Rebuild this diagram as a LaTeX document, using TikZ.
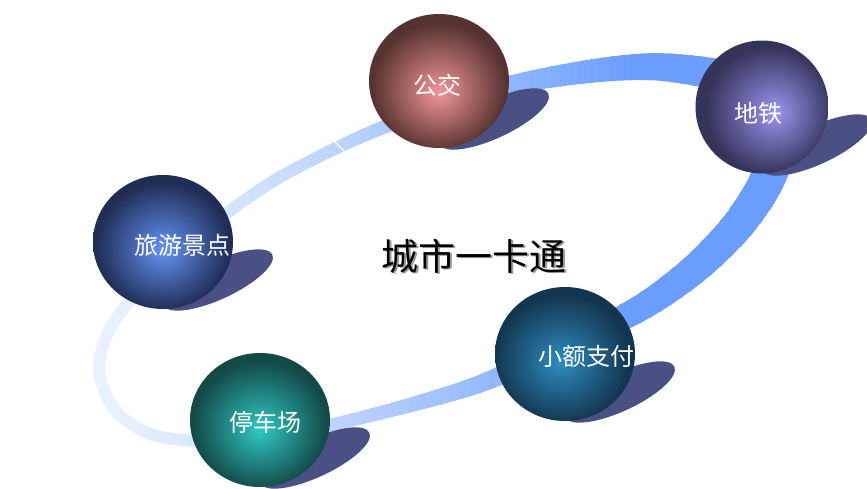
\documentclass[tikz,border=0pt]{standalone}
\usepackage{fontspec}
\newfontfamily\cjk{Noto Sans CJK SC}
\usetikzlibrary{positioning}
\usetikzlibrary{calc}
\usetikzlibrary{shapes.geometric}
\usepackage{xcolor}

\definecolor{ringblue}{RGB}{107,157,255}
\definecolor{shadowblue}{RGB}{75,80,132}
\definecolor{busin}{RGB}{242,150,150}
\definecolor{busout}{RGB}{87,50,50}
\definecolor{metroin}{RGB}{154,150,240}
\definecolor{metroout}{RGB}{52,52,90}
\definecolor{sightin}{RGB}{100,148,245}
\definecolor{sightout}{RGB}{32,45,85}
\definecolor{parkin}{RGB}{48,200,196}
\definecolor{parkout}{RGB}{19,74,72}
\definecolor{payin}{RGB}{46,140,192}
\definecolor{payout}{RGB}{19,54,80}

\pgfdeclareradialshading{busorb}{\pgfpoint{0bp}{-4.5bp}}{color(0bp)=(busin); color(24bp)=(busout); color(50bp)=(busout)}
\pgfdeclareradialshading{metroorb}{\pgfpoint{5.5bp}{-2.2bp}}{color(0bp)=(metroin); color(24bp)=(metroout); color(50bp)=(metroout)}
\pgfdeclareradialshading{sightorb}{\pgfpoint{0bp}{-3bp}}{color(0bp)=(sightin); color(24bp)=(sightout); color(50bp)=(sightout)}
\pgfdeclareradialshading{parkorb}{\pgfpoint{0bp}{-3.7bp}}{color(0bp)=(parkin); color(24bp)=(parkout); color(50bp)=(parkout)}
\pgfdeclareradialshading{payorb}{\pgfpoint{-2bp}{-3.3bp}}{color(0bp)=(payin); color(24bp)=(payout); color(50bp)=(payout)}

\tikzset{
  orb/.style={ellipse, inner sep=0pt, minimum width=140pt, minimum height=134pt, shade, shading=#1},
  orbtext/.style={text=white, font=\cjk\fontsize{24}{28}\selectfont},
  orbshadow/.style={fill=shadowblue},
  titletext/.style={font=\cjk\fontsize{37}{42}\selectfont}
}

\begin{document}
\begin{tikzpicture}[x=1pt,y=-1pt]

\useasboundingbox (0,0) rectangle (867,488);

\path[save path=\ringpath] plot[smooth cycle] coordinates {(99,372) (115,410) (150,434) (200,441) (260,437) (330,425) (410,405) (482,383) (560,348) (640,308) (693,270) (735,228) (764,185) (780,140) (768,102) (725,77) (660,67) (600,70) (520,83) (440,106) (360,137) (280,177) (220,218) (170,258) (128,303) (107,335)};

\foreach \sx in {90,100,...,800}{
  \pgfmathsetmacro{\t}{max(0.001,min(1,(\sx+5-100)/530))}
  \pgfmathtruncatemacro{\p}{15+85*\t^1.3}
  \pgfmathsetmacro{\w}{12+24*max(0.001,min(1,(\sx+5-300)/480))^1.5}
  \begin{scope}
    \clip (\sx-0.5,0) rectangle (\sx+10.5,488);
    \draw[use path=\ringpath, draw=ringblue!\p!white, line width=\w pt];
  \end{scope}
}
\draw[white, line width=1.2pt] (335,142) -- (348,155);

\coordinate (bus-c) at (439,81);
\coordinate (metro-c) at (762,107);
\coordinate (sight-c) at (163,242);
\coordinate (park-c) at (260,420);
\coordinate (pay-c) at (565,354);

\foreach \n in {bus,metro,sight,park,pay}
  \fill[orbshadow] ($(\n-c)+(55,38)$) circle [x radius=60, y radius=19, rotate=25];

\node[orb=busorb] (bus) at (bus-c) {};
\node[orb=metroorb, minimum width=133pt, minimum height=133pt] (metro) at (metro-c) {};
\node[orb=sightorb] (sight) at (sight-c) {};
\node[orb=parkorb] (park) at (park-c) {};
\node[orb=payorb] (pay) at (pay-c) {};

\node[orbtext] (bus-t) at (437,85) {公交};
\node[orbtext] (metro-t) at (758,113) {地铁};
\node[orbtext] (sight-t) at (182,245) {旅游景点};
\node[orbtext] (park-t) at (265,422) {停车场};
\node[orbtext] (pay-t) at (586,356) {小额支付};

\node[titletext, text=black!40] at (475.5,257.5) {城市一卡通};
\node[titletext] (title) at (474,256) {城市一卡通};

\end{tikzpicture}
\end{document}
